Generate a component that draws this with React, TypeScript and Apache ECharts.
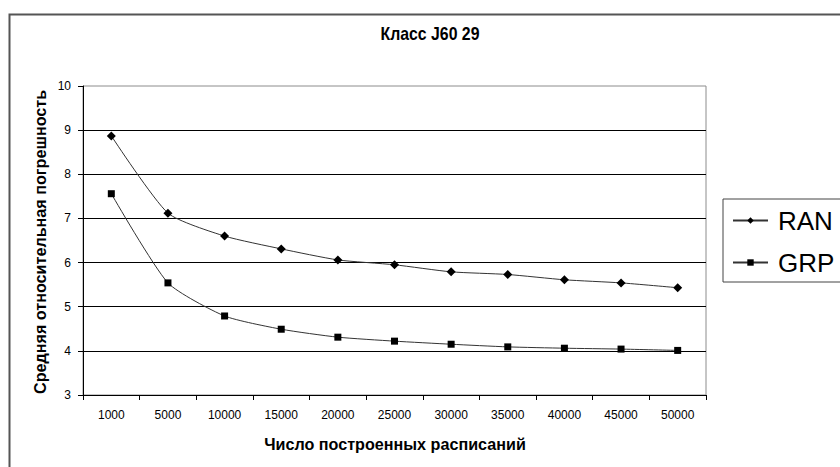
import React, { useEffect, useRef } from "react";
import * as echarts from "echarts";

const categories = ["1000", "5000", "10000", "15000", "20000", "25000", "30000", "35000", "40000", "45000", "50000"];
const ranValues = [8.87, 7.12, 6.6, 6.31, 6.06, 5.95, 5.79, 5.73, 5.61, 5.54, 5.43];
const grpValues = [7.56, 5.54, 4.79, 4.49, 4.31, 4.22, 4.15, 4.09, 4.06, 4.04, 4.01];

const titleText = "Класс J60 29";
const xTitle = "Число построенных расписаний";
const yTitle = "Средняя относительная погрешность";

const sansFont = "'Liberation Sans', Arial, sans-serif";

export default function App() {
  const ref = useRef<HTMLDivElement>(null);

  useEffect(() => {
    if (!ref.current) return;
    const chart = echarts.init(ref.current, null, { renderer: "svg" });
    chart.setOption({
      animation: false,
      backgroundColor: "#fff",
      grid: {
        left: 83,
        right: 134,
        top: 86,
        bottom: 72,
        show: true,
        borderColor: "#8c8c8c",
        borderWidth: 1,
        backgroundColor: "transparent",
      },
      xAxis: {
        type: "category",
        data: categories,
        boundaryGap: true,
        axisLine: { lineStyle: { color: "#000", width: 1 } },
        axisTick: { show: true, length: 5, lineStyle: { color: "#000" } },
        axisLabel: { color: "#000", fontSize: 12, fontFamily: sansFont, margin: 14 },
        splitLine: { show: false },
      },
      yAxis: {
        type: "value",
        min: 3,
        max: 10,
        interval: 1,
        axisLine: { show: true, lineStyle: { color: "#000", width: 1 } },
        axisTick: { show: true, length: 5, lineStyle: { color: "#000" } },
        axisLabel: { color: "#000", fontSize: 12, fontFamily: sansFont, margin: 12 },
        splitLine: { show: true, showMaxLine: false, lineStyle: { color: "#000", width: 1 } },
      },
      legend: {
        orient: "vertical",
        left: 723,
        top: 199,
        padding: [8, 30, 6, 9],
        itemGap: 15,
        itemWidth: 35,
        itemHeight: 8,
        borderColor: "#444",
        borderWidth: 1,
        backgroundColor: "#fff",
        textStyle: { fontSize: 26, lineHeight: 27, color: "#000", fontFamily: sansFont, padding: [0, 0, 0, 5] },
        data: ["RAN", "GRP"],
      },
      series: [
        {
          name: "RAN",
          type: "line",
          data: ranValues,
          smooth: 0.2,
          symbol: "diamond",
          symbolSize: 9,
          itemStyle: { color: "#000" },
          lineStyle: { color: "#333", width: 1 },
        },
        {
          name: "GRP",
          type: "line",
          data: grpValues,
          smooth: 0.2,
          symbol: "rect",
          symbolSize: 7,
          itemStyle: { color: "#000" },
          lineStyle: { color: "#333", width: 1 },
        },
      ],
      graphic: [
        {
          type: "rect",
          left: 7,
          top: 12,
          shape: { width: 900, height: 500 },
          style: { fill: "none", stroke: "#555", lineWidth: 2 },
          silent: true,
          z: -1,
        },
        {
          type: "text",
          x: 430,
          y: 34,
          scaleX: 0.88,
          style: {
            text: titleText,
            font: `bold 18px ${sansFont}`,
            fill: "#000",
            textAlign: "center",
            textVerticalAlign: "middle",
          },
        },
        {
          type: "text",
          x: 395,
          y: 444,
          scaleX: 0.95,
          style: {
            text: xTitle,
            font: `bold 17px ${sansFont}`,
            fill: "#000",
            textAlign: "center",
            textVerticalAlign: "middle",
          },
        },
        {
          type: "text",
          x: 40,
          y: 394,
          rotation: Math.PI / 2,
          scaleX: 0.95,
          style: {
            text: yTitle,
            font: `bold 17px ${sansFont}`,
            fill: "#000",
            textAlign: "left",
            textVerticalAlign: "middle",
          },
        },
      ],
    });
    return () => chart.dispose();
  }, []);

  return (
    <div
      ref={ref}
      style={{ position: "absolute", left: 0, top: 0, width: 840, height: 467 }}
    />
  );
}
